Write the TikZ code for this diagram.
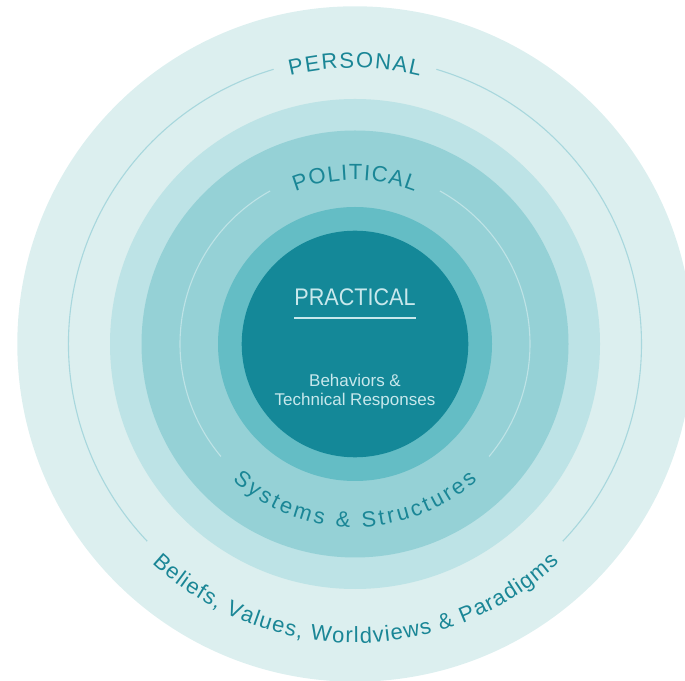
\documentclass[tikz,border=0pt]{standalone}
\usepackage{fontspec}
\setmainfont{Liberation Sans}
\newfontfamily\pracfont[FakeStretch=0.9]{Liberation Sans}
\usetikzlibrary{decorations.text}
\definecolor{ringA}{HTML}{DCEFEF}
\definecolor{ringB}{HTML}{BDE3E6}
\definecolor{ringC}{HTML}{95D1D6}
\definecolor{ringD}{HTML}{64BDC5}
\definecolor{core}{HTML}{148898}
\definecolor{txt}{HTML}{1A8696}
\definecolor{lightTxt}{HTML}{C8E8EC}
\definecolor{arcA}{HTML}{A8D7DD}
\definecolor{arcB}{HTML}{BEE3E6}
\tikzset{
  outerarc/.style={draw=arcA, line width=1.1pt},
  innerarc/.style={draw=arcB, line width=1.1pt},
  curvelabel/.style={decorate, decoration={text along path, text={#1}, text align={fit to path}, text color=txt}},
  centertext/.style={anchor=base, text=lightTxt, inner sep=0pt, font=\fontsize{17}{19}\selectfont}
}
\newcommand{\curvefont}{\fontsize{22}{22}\selectfont}
\begin{document}
\begin{tikzpicture}[x=1pt,y=1pt]
\useasboundingbox (0,0) rectangle (685,680);
\clip (0,0) rectangle (685,680);
\coordinate (c) at (355,336);
% rings
\fill[ringA] (c) circle[radius=337.7pt];
\fill[ringB] (c) circle[radius=245pt];
\fill[ringC] (c) circle[radius=213.5pt];
\fill[ringD] (c) circle[radius=137pt];
\fill[core] (c) circle[radius=113.3pt];
% thin arcs
\draw[outerarc] (c) ++(106.5:286.5pt) arc[start angle=106.5, end angle=223.5, radius=286.5pt];
\draw[outerarc] (c) ++(-43.5:286.5pt) arc[start angle=-43.5, end angle=73.5, radius=286.5pt];
\draw[innerarc] (c) ++(119:175pt) arc[start angle=119, end angle=220, radius=175pt];
\draw[innerarc] (c) ++(-40:175pt) arc[start angle=-40, end angle=61, radius=175pt];
% curved labels
\path[curvelabel={|\curvefont|PERSONAL}] (c) ++(103.6:276pt) arc[start angle=103.6, end angle=76.4, radius=276pt];
\path[curvelabel={|\curvefont|POLITICAL}] (c) ++(111.3:164pt) arc[start angle=111.3, end angle=68.7, radius=164pt];
\path[curvelabel={|\curvefont|Systems {\&} Structures}] (c) ++(228:183pt) arc[start angle=228, end angle=312, radius=183pt];
\path[curvelabel={|\curvefont|Beliefs, Values, Worldviews {\&} Paradigms}] (c) ++(227.2:299pt) arc[start angle=227.2, end angle=313, radius=299pt];
% center text
\node[anchor=base, text=lightTxt, inner sep=0pt, font=\pracfont\fontsize{24}{24}\selectfont] (prac) at (355,374) {PRACTICAL};
\coordinate (ulL) at (294,362);
\coordinate (ulR) at (416,362);
\draw[lightTxt, line width=1.3pt] (ulL) -- (ulR);
\node[centertext] (beh1) at (355,293) {Behaviors \&};
\node[centertext] (beh2) at (355,274) {Technical Responses};
\end{tikzpicture}
\end{document}
